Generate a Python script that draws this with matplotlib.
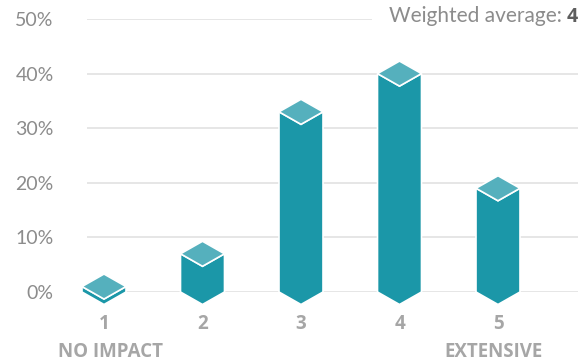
import matplotlib
matplotlib.use("Agg")
import matplotlib.pyplot as plt
from matplotlib.patches import Polygon
from matplotlib.transforms import offset_copy

# ---- data ----
categories = ["1", "2", "3", "4", "5"]
values = [1, 7, 33, 40, 19]           # percent
y_ticks = [0, 10, 20, 30, 40, 50]
y_tick_labels = ["0%", "10%", "20%", "30%", "40%", "50%"]
low_label = "NO IMPACT"
high_label = "EXTENSIVE"
avg_label = "Weighted average:"
avg_value = "4"

# ---- style ----
body_color = "#1b97a8"
top_color = "#55b0bd"
grid_color = "#e2e2e2"
ytick_color = "#8c8c8c"
xtick_color = "#a6a6a6"
bold_family = ["Open Sans", "DejaVu Sans"]
plt.rcParams["font.family"] = ["Lato", "DejaVu Sans"]

W, H = 588, 363
fig = plt.figure(figsize=(W / 100, H / 100), dpi=100)
L, R, T, B = 87, 578, 19, 292
ax = fig.add_axes([L / W, (H - B) / H, (R - L) / W, (B - T) / H])

px_per_cat = 98.5
x0 = 1 - (104 - L) / px_per_cat
ax.set_xlim(x0, x0 + (R - L) / px_per_cat)
ax.set_ylim(0, 50)

px_per_unit = (B - T) / 50.0
half_w = 22 / px_per_cat
depth = 12.5 / px_per_unit

for spine in ax.spines.values():
    spine.set_visible(False)

ax.set_yticks(y_ticks)
ax.set_yticklabels(y_tick_labels, fontsize=14, color=ytick_color)
ax.tick_params(axis="y", length=0, pad=24)
ax.yaxis.grid(True, color=grid_color, linewidth=1.2, zorder=0)
ax.set_axisbelow(True)

xs = list(range(1, len(categories) + 1))
ax.set_xticks(xs)
ax.set_xticklabels(categories, fontsize=13.5, fontweight="bold", color=xtick_color,
                   family=bold_family)
ax.tick_params(axis="x", length=0, pad=16)

for x, v in zip(xs, values):
    body = [(x - half_w, v), (x, v - depth), (x + half_w, v),
            (x + half_w, 0), (x, -depth), (x - half_w, 0)]
    top = [(x - half_w, v), (x, v + depth), (x + half_w, v), (x, v - depth)]
    ax.add_patch(Polygon(body, closed=True, facecolor=body_color,
                         edgecolor="white", linewidth=1.2, zorder=3, clip_on=False))
    ax.add_patch(Polygon(top, closed=True, facecolor=top_color,
                         edgecolor="white", linewidth=1.2, zorder=4, clip_on=False))

# end labels
ax.annotate(low_label, xy=(xs[0], 0), xycoords="data", xytext=(6, -60),
            textcoords="offset pixels", ha="center", va="center",
            fontsize=13.5, fontweight="bold", color=xtick_color, family=bold_family)
ax.annotate(high_label, xy=(xs[-1], 0), xycoords="data", xytext=(-5, -60),
            textcoords="offset pixels", ha="center", va="center",
            fontsize=13.5, fontweight="bold", color=xtick_color, family=bold_family)

# weighted average (shared baseline)
base_tr = offset_copy(ax.transAxes, fig=fig, x=0, y=-3, units="dots")
t4 = ax.text(1.0, 1.0, avg_value, transform=base_tr, ha="right", va="baseline",
             fontsize=14, fontweight="bold", color="#5e5e5e", zorder=7,
             family=bold_family)
fig.canvas.draw()
w4 = t4.get_window_extent().width
lab_tr = offset_copy(ax.transAxes, fig=fig, x=-(w4 + 5), y=-3, units="dots")
ax.text(1.0, 1.0, avg_label, transform=lab_tr, ha="right", va="baseline",
        fontsize=15, color="#8c8c8c", zorder=6,
        bbox=dict(facecolor="white", edgecolor="none", pad=12))

fig.savefig("out.png", dpi=100)
